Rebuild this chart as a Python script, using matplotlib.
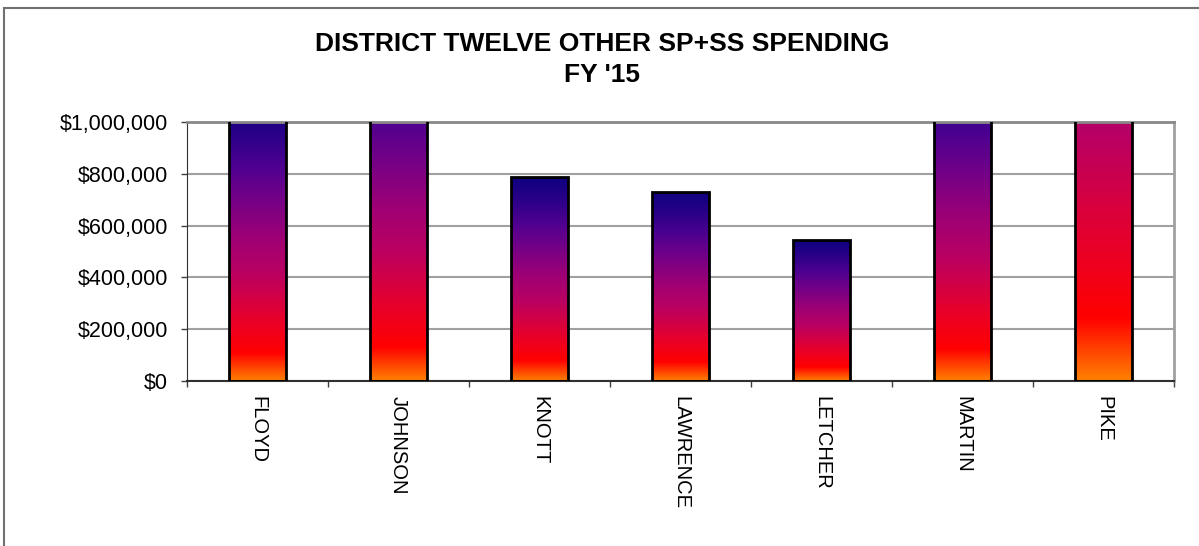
import numpy as np
import matplotlib
matplotlib.use('Agg')
import matplotlib.pyplot as plt
from matplotlib.colors import LinearSegmentedColormap
from matplotlib.patches import Rectangle
from matplotlib.ticker import FuncFormatter

plt.rcParams['font.family'] = ['Liberation Sans', 'DejaVu Sans']

counties = ['FLOYD', 'JOHNSON', 'KNOTT', 'LAWRENCE', 'LETCHER', 'MARTIN', 'PIKE']
spending = [1070000, 1300000, 786000, 728000, 544000, 1220000, 2400000]
y_ticks = [0, 200000, 400000, 600000, 800000, 1000000]

# Excel-style "fire" gradient, orange at the base to navy at the top of each bar
grad = LinearSegmentedColormap.from_list('fire', [
    (0.0, '#FF8000'), (0.1, '#FF0000'), (0.22, '#E8002A'), (0.39, '#BA0062'),
    (0.51, '#A00074'), (0.67, '#700088'), (0.77, '#500090'), (0.89, '#2A0088'),
    (1.0, '#0E0080')])

fig = plt.figure(figsize=(11.99, 5.46), dpi=100)
ax = fig.add_axes([187/1199, 1 - 381/546, (1174-187)/1199, (381-122)/546])

x = np.arange(len(counties))
w = 0.40
g = np.linspace(0, 1, 256).reshape(-1, 1)
for xi, v in zip(x, spending):
    ax.imshow(g, cmap=grad, origin='lower', aspect='auto',
              extent=(xi - w/2, xi + w/2, 0, v), zorder=2, interpolation='bilinear')
ax.bar(x, spending, width=w, fill=False, edgecolor='black', linewidth=2, zorder=3)

ax.set_xlim(-0.5, len(counties) - 0.5)
ax.set_ylim(0, 1000000)

ax.set_yticks(y_ticks)
ax.yaxis.set_major_formatter(FuncFormatter(lambda v, p: '${:,.0f}'.format(v)))
ax.yaxis.grid(True, color='#A0A0A0', linewidth=1.5, zorder=0)
ax.set_axisbelow(True)
ax.tick_params(axis='y', direction='out', length=4.5, width=1, color='#404040',
               labelsize=15.5, pad=9)

ax.set_xticks(np.arange(-0.5, len(counties)), labels=[])
ax.set_xticks(x, labels=counties, minor=True)
ax.tick_params(axis='x', which='major', direction='out', length=4.5, width=1, color='#404040')
ax.tick_params(axis='x', which='minor', length=0, labelsize=14.5, pad=10.5, labelrotation=270)

ax.spines['left'].set_color('#303030')
ax.spines['bottom'].set_color('#303030')
ax.spines['bottom'].set_linewidth(1.5)
ax.spines['right'].set_color('#A0A0A0')
ax.spines['right'].set_linewidth(2)
ax.spines['top'].set_color('#888888')
ax.spines['top'].set_linewidth(2)

fig.text(0.502, 1 - 44/546, 'DISTRICT TWELVE OTHER SP+SS SPENDING', ha='center', va='center',
         fontsize=19, fontweight='bold')
fig.text(0.502, 1 - 75/546, "FY '15", ha='center', va='center', fontsize=19, fontweight='bold')

fig.patches.append(Rectangle((4/1199, -0.2), 1.2, 1.2 - 8/546, transform=fig.transFigure,
                             fill=False, edgecolor='#707070', linewidth=1.5))

fig.savefig('out.png', dpi=100)
